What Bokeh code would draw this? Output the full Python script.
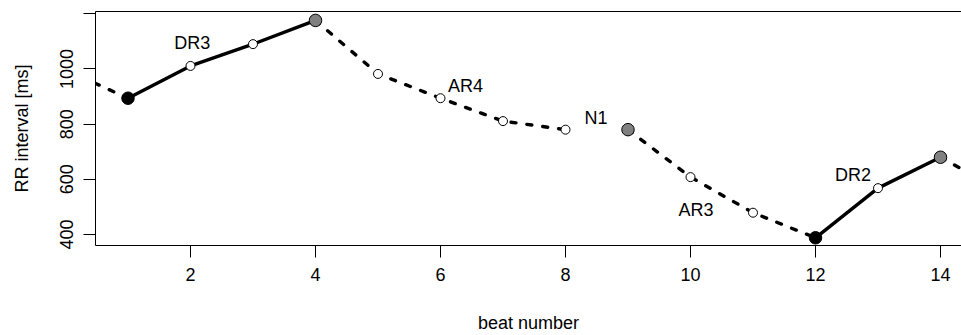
from bokeh.plotting import figure
from bokeh.models import FixedTicker, LinearAxis, Range1d
from bokeh.core.properties import value
from bokeh.embed import file_html
from bokeh.resources import INLINE

# ---- data ----
beats = [0, 1, 2, 3, 4, 5, 6, 7, 8, 9, 10, 11, 12, 13, 14, 15]
rr_ms = [997, 894, 1011, 1090, 1176, 982, 894, 811, 780, 780, 608, 479, 388, 568, 680, 555]

solid_segments = [[1, 2, 3, 4], [12, 13, 14]]
dashed_segments = [[0, 1], [4, 5, 6, 7, 8], [9, 10, 11, 12], [14, 15]]

black_beats = [1, 12]
grey_beats = [4, 9, 14]
white_beats = [2, 3, 5, 6, 7, 8, 10, 11, 13]

label_text = ["DR3", "AR4", "N1", "AR3", "DR2"]
label_x = [2.03, 6.40, 8.49, 10.09, 12.60]
label_y = [1094, 938, 824, 489, 616]

x_ticks = [2, 4, 6, 8, 10, 12, 14]
y_ticks = [400, 600, 800, 1000, 1200]

FONT = "Liberation Sans"
FS = "18px"

rr_of = dict(zip(beats, rr_ms))

p = figure(width=961, height=335,
           x_range=Range1d(0.48, 14.336), y_range=Range1d(360.1, 1208.3),
           output_backend="svg", toolbar_location=None,
           min_border_left=95, min_border_right=0, min_border_top=11, min_border_bottom=90)
p.outline_line_color = None
p.grid.visible = False
p.background_fill_color = "white"
p.border_fill_color = "white"

for seg in dashed_segments:
    p.line([b for b in seg], [rr_of[b] for b in seg], line_color="black", line_width=3.4,
           line_dash="5 11", line_cap="round")
for seg in solid_segments:
    p.line([b for b in seg], [rr_of[b] for b in seg], line_color="black", line_width=3.4,
           line_cap="round", line_join="round")

p.scatter([b for b in white_beats], [rr_of[b] for b in white_beats], size=9,
          fill_color="white", line_color="black", line_width=1)
p.scatter([b for b in grey_beats], [rr_of[b] for b in grey_beats], size=12.5,
          fill_color="#808080", line_color="black", line_width=1)
p.scatter([b for b in black_beats], [rr_of[b] for b in black_beats], size=12.5,
          fill_color="black", line_color="black", line_width=1)

p.text(label_x, label_y, text=label_text, text_font=value(FONT), text_font_size=FS,
       text_align="center", text_baseline="middle", text_color="black")

# axes
xa = p.xaxis[0]
xa.ticker = FixedTicker(ticks=x_ticks)
xa.axis_label = "beat number"
ya = p.yaxis[0]
ya.ticker = FixedTicker(ticks=y_ticks)
ya.major_label_overrides = {1200: ""}
ya.axis_label = "RR interval [ms]"
ya.major_label_orientation = "vertical"

for ax in (xa, ya):
    ax.axis_line_color = "black"
    ax.major_tick_line_color = "black"
    ax.major_tick_out = 12
    ax.major_tick_in = 0
    ax.minor_tick_out = 0
    ax.minor_tick_in = 0
    ax.major_label_text_font = FONT
    ax.major_label_text_font_size = FS
    ax.major_label_text_color = "black"
    ax.axis_label_text_font = FONT
    ax.axis_label_text_font_size = FS
    ax.axis_label_text_font_style = "normal"
    ax.axis_label_text_color = "black"
xa.major_label_standoff = 10
xa.axis_label_standoff = 29
ya.major_label_standoff = 10
ya.axis_label_standoff = 26

top = LinearAxis(ticker=FixedTicker(ticks=[]), major_tick_out=0, major_tick_in=0,
                 minor_tick_out=0, minor_tick_in=0, major_label_standoff=0,
                 axis_label_standoff=0, axis_line_color="black")
p.add_layout(top, "above")

open("out.html", "w").write(file_html(p, INLINE))
